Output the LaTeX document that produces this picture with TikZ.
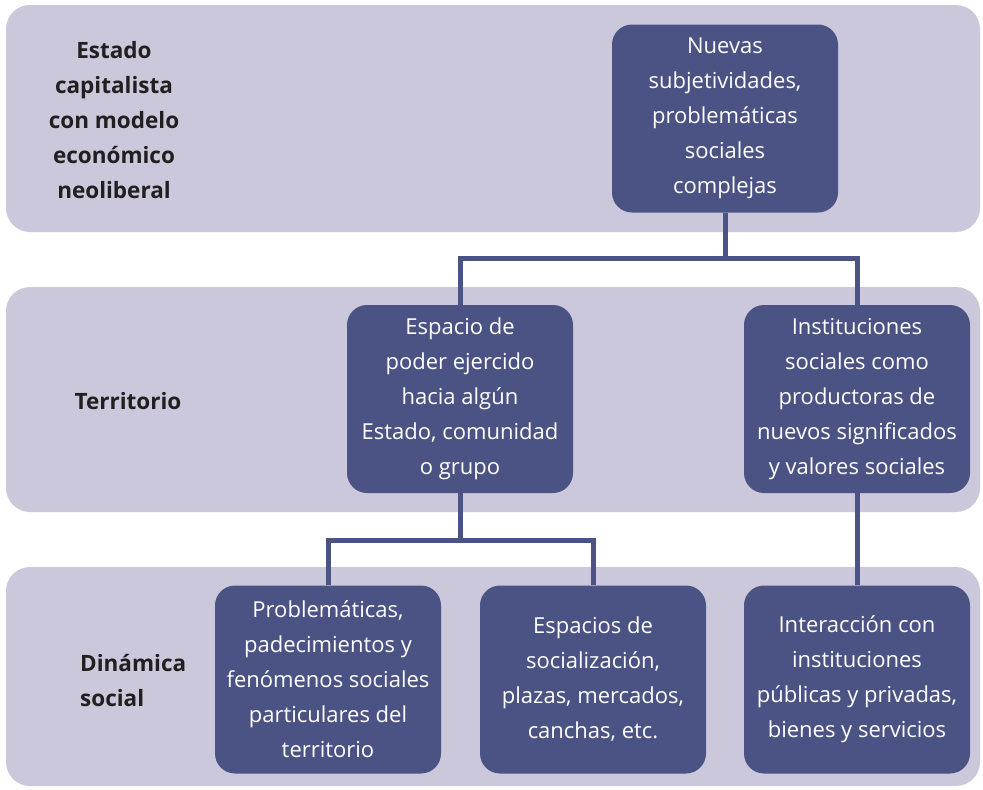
\documentclass[tikz,border=0pt]{standalone}
\usepackage{fontspec}
\setmainfont{Open Sans}
\definecolor{bandc}{HTML}{CBC8DC}
\definecolor{boxc}{HTML}{4B5385}
\definecolor{labc}{HTML}{231F20}
\tikzset{
  band/.style={fill=bandc, rounded corners=24pt},
  box/.style={fill=boxc, rounded corners=20pt, text=white, align=center,
    minimum width=226pt, minimum height=188pt, inner sep=0pt,
    font=\fontsize{22}{35}\selectfont},
  lab/.style={text=labc, font=\bfseries\fontsize{22.5}{35}\selectfont, inner sep=0pt},
  conn/.style={draw=boxc, line width=5pt}
}
\begin{document}
\begin{tikzpicture}[x=1pt,y=-1pt]
\useasboundingbox (0,0) rectangle (983,790);
\fill[band] (6,5) rectangle (980,232);
\fill[band] (6,287) rectangle (980,512);
\fill[band] (6,567) rectangle (980,786);

\node[lab, align=center] (l1) at (114,120) {Estado\\capitalista\\con modelo\\económico\\neoliberal};
\node[lab, align=left] (l2) at (128,401) {Territorio};
\node[lab, align=left, anchor=west] (l3) at (80,680) {Dinámica\\social};

\node[box] (n1) at (725,118.5) {Nuevas\\subjetividades,\\problemáticas\\sociales\\complejas};
\node[box] (esp) at (460,399) {Espacio de\\poder ejercido\\hacia algún\\Estado, comunidad\\o grupo};
\node[box] (ins) at (857,399) {Instituciones\\sociales como\\productoras de\\nuevos significados\\y valores sociales};
\node[box] (pro) at (328,679.5) {Problemáticas,\\padecimientos y\\fenómenos sociales\\particulares del\\territorio};
\node[box] (eso) at (593,679.5) {Espacios de\\socialización,\\plazas, mercados,\\canchas, etc.};
\node[box] (int) at (857,679.5) {Interacción con\\instituciones\\públicas y privadas,\\bienes y servicios};

\coordinate (j1) at (725,258);
\coordinate (j2) at (460,540);
\draw[conn] (n1.south) -- (j1) -| (esp.north);
\draw[conn] (j1) -| (ins.north);
\draw[conn] (esp.south) -- (j2) -| (pro.north);
\draw[conn] (j2) -| (eso.north);
\draw[conn] (ins.south) -- (int.north);
\end{tikzpicture}
\end{document}
